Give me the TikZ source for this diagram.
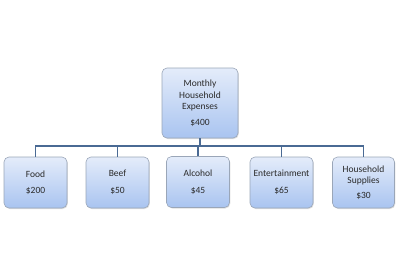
\documentclass[tikz,border=0pt]{standalone}
\usepackage{fontspec}
\setmainfont{Carlito}
\usetikzlibrary{shadows}
\definecolor{boxtop}{HTML}{E4ECFA}
\definecolor{boxbot}{HTML}{A9C4F0}
\definecolor{boxline}{HTML}{9AA6B8}
\definecolor{conn}{HTML}{4A6A94}
\definecolor{txt}{HTML}{2A2A2A}
\tikzset{
  card/.style={draw=boxline, line width=0.6pt, rounded corners=5pt,
    top color=boxtop, bottom color=boxbot,
    drop shadow={shadow xshift=0.8pt, shadow yshift=-1pt, opacity=0.25},
    inner sep=0pt, align=center, font=\fontsize{9.5}{11.5}\selectfont, text=txt},
  conn/.style={draw=conn, line width=1.3pt}
}
\begin{document}
\begin{tikzpicture}[x=1pt,y=-1pt]
\useasboundingbox (0,0) rectangle (400,277);
\node[card, minimum width=76pt, minimum height=70pt] (root) at (200,103)
  {Monthly\\Household\\Expenses\\[4pt]\$400};
\node[card, minimum width=63pt, minimum height=51pt] (food) at (35.5,182.5) {Food\\[5pt]\$200};
\node[card, minimum width=63pt, minimum height=51pt] (beef) at (117.5,182.5) {Beef\\[5pt]\$50};
\node[card, minimum width=63pt, minimum height=51pt] (alc) at (198,182) {Alcohol\\[5pt]\$45};
\node[card, minimum width=63pt, minimum height=51pt] (ent) at (281.5,182.5) {Entertainment\\[5pt]\$65};
\node[card, minimum width=62pt, minimum height=51pt] (hs) at (363.5,182.5) {Household\\Supplies\\[3pt]\$30};
\coordinate (bus) at (200,146);
\draw[conn] (root.south) -- (bus);
\draw[conn] (food.north) |- (bus) -| (hs.north);
\draw[conn] (beef.north) -- (beef.north |- bus);
\draw[conn] (alc.north) -- (alc.north |- bus);
\draw[conn] (ent.north) -- (ent.north |- bus);
\end{tikzpicture}
\end{document}
